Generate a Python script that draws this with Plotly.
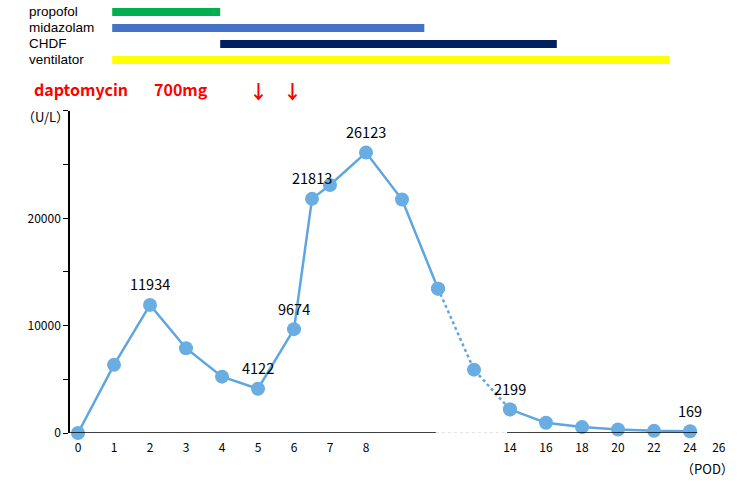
import plotly.graph_objects as go

# ---- data ----
# x positions on a broken axis: 0..10 are days, 11 is an unlabeled intermediate point, 12.. = POD 14, 16, ...
pos = [0, 1, 2, 3, 4, 5, 6, 6.5, 7, 8, 9, 10, 11, 12, 13, 14, 15, 16, 17]
values = [0, 6350, 11934, 7900, 5250, 4122, 9674, 21813, 23100, 26123, 21750, 13450, 5900, 2199, 950, 550, 330, 200, 169]
labeled_idx = [2, 5, 6, 7, 9, 13, 18]

tick_pos = [0, 1, 2, 3, 4, 5, 6, 7, 8, 12, 13, 14, 15, 16, 17, 17.8]
tick_text = ["0", "1", "2", "3", "4", "5", "6", "7", "8", "14", "16", "18", "20", "22", "24", "26"]

treatments = ["propofol", "midazolam", "CHDF", "ventilator"]
treat_start = [0.95, 0.95, 3.95, 0.95]
treat_end = [3.95, 9.62, 13.3, 16.42]
treat_colors = ["#00b050", "#4472c4", "#002060", "#ffff00"]

dose_pos = [5.0, 5.95]

y_tickvals = [0, 5000, 10000, 15000, 20000, 25000, 30000]
y_ticktext = ["0", "", "10000", "", "20000", "", ""]

break_start, break_end, axis_end = 9.94, 11.92, 17.2

FONT = "Noto Sans CJK JP, Noto Sans, sans-serif"
LABEL_FONT = "Liberation Sans, Arial, sans-serif"
LINE_C = "#5ea6df"
MARK_C = "#69ade3"

# plot-area geometry helpers (pixels -> paper)
L, R, T, B, W, H = 70, 20, 4, 49, 750, 482
PW, PH = W - L - R, H - T - B


def px(x):
    return (x - L) / PW


def py(y):
    return (H - B - y) / PH


fig = go.Figure()

i10 = pos.index(10)
i12 = pos.index(12)
segments = [(0, i10 + 1, "solid"), (i10, i12 + 1, "dot"), (i12, len(pos), "solid")]
for a, b, dash in segments:
    fig.add_trace(go.Scatter(x=pos[a:b], y=values[a:b], mode="lines+markers",
                             line=dict(color=LINE_C, width=2.5, dash=dash),
                             marker=dict(color=MARK_C, size=14), cliponaxis=False,
                             showlegend=False, hoverinfo="skip"))

# treatment bars
for name, s, e, c in zip(treatments, treat_start, treat_end, treat_colors):
    fig.add_trace(go.Bar(y=[name], x=[e - s], base=[s], orientation="h",
                         marker=dict(color=c, line=dict(width=0)), width=0.5,
                         yaxis="y2", showlegend=False, hoverinfo="skip"))

annotations = []
for i in labeled_idx:
    annotations.append(dict(x=pos[i], y=values[i], xref="x", yref="y", text=str(values[i]),
                            showarrow=False, yshift=21, font=dict(size=14.5, color="black", family=FONT)))
for name in treatments:
    annotations.append(dict(x=px(27), y=name, xref="paper", yref="y2", text=name,
                            xanchor="left", yanchor="middle", showarrow=False,
                            font=dict(size=13.5, color="black", family=LABEL_FONT)))
annotations.append(dict(x=px(32), y=py(89), xref="paper", yref="paper", text="<b>daptomycin</b>",
                        xanchor="left", yanchor="middle", showarrow=False,
                        font=dict(size=16, color="#ff0000", family=FONT)))
annotations.append(dict(x=px(152), y=py(89), xref="paper", yref="paper", text="<b>700mg</b>",
                        xanchor="left", yanchor="middle", showarrow=False,
                        font=dict(size=16, color="#ff0000", family=FONT)))
for d in dose_pos:
    annotations.append(dict(x=d, y=py(90), xref="x", yref="paper", text="<b>↓</b>",
                            yanchor="middle", showarrow=False, font=dict(size=19, color="#ff0000", family=FONT)))
annotations.append(dict(x=px(45), y=py(117), xref="paper", yref="paper", text="（U/L）",
                        xanchor="center", yanchor="middle", showarrow=False,
                        font=dict(size=13, color="black", family=FONT)))
annotations.append(dict(x=px(707), y=py(468), xref="paper", yref="paper", text="（POD）",
                        xanchor="center", yanchor="middle", showarrow=False,
                        font=dict(size=13, color="black", family=FONT)))

shapes = [
    dict(type="line", xref="x", yref="y", x0=-0.2222, x1=break_start, y0=0, y1=0,
         line=dict(color="black", width=1.5)),
    dict(type="line", xref="x", yref="y", x0=break_start, x1=break_end, y0=0, y1=0,
         line=dict(color="#c8c8c8", width=1, dash="dot")),
    dict(type="line", xref="x", yref="y", x0=break_end, x1=axis_end, y0=0, y1=0,
         line=dict(color="black", width=1.5)),
]

fig.update_layout(
    width=W, height=H,
    margin=dict(l=L, r=R, t=T, b=B),
    paper_bgcolor="white", plot_bgcolor="white",
    font=dict(family=FONT, color="black", size=12),
    barmode="overlay",
    xaxis=dict(range=[-0.2222, 18.111], tickvals=tick_pos, ticktext=tick_text, showline=False,
               showgrid=False, zeroline=False, ticks="", tickfont=dict(size=12), anchor="y",
               ticklabelstandoff=6),
    yaxis=dict(domain=[0, 0.7506], range=[0, 30000], tickvals=y_tickvals, ticktext=y_ticktext,
               showline=True, linecolor="black", linewidth=1.5, ticks="outside", ticklen=5,
               tickcolor="black", showgrid=False, zeroline=False, tickfont=dict(size=12)),
    yaxis2=dict(domain=[0.851, 1.0], type="category", categoryorder="array",
                categoryarray=treatments[::-1], range=[-0.5, 3.5], showticklabels=False,
                showgrid=False, zeroline=False, showline=False, anchor="x"),
    annotations=annotations,
    shapes=shapes,
)

fig.write_html("out.html")
